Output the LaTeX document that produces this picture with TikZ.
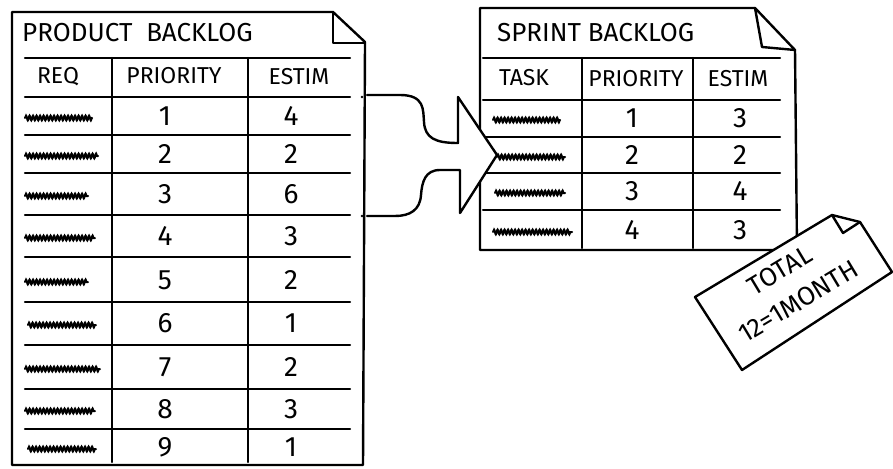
\documentclass[tikz,border=0pt]{standalone}
\usepackage{fontspec}
\setmainfont{Fira Sans}
\usetikzlibrary{decorations.pathmorphing}
\tikzset{
  pen/.style={line width=2.4pt, line cap=round, line join=round},
  rule/.style={line width=2.1pt, line cap=round},
  title/.style={font=\fontsize{26}{26}\selectfont, anchor=west, inner sep=0pt},
  head/.style={font=\fontsize{23}{23}\selectfont, inner sep=0pt},
  num/.style={font=\fontsize{28}{28}\selectfont, inner sep=0pt},
  notetext/.style={font=\fontsize{26}{36}\selectfont, inner sep=0pt, rotate=31, align=center},
  scribble/.style={line width=2pt, line cap=round, decorate,
    decoration={snake, amplitude=2.4pt, segment length=3.5pt}},
}
\begin{document}
\begin{tikzpicture}[x=1pt,y=-1pt]
\useasboundingbox (0,0) rectangle (893,468);

% ---------- Product backlog ----------
\draw[pen] (12,12) -- (333,12) -- (365,42) -- (363,465) -- (12,465) -- cycle;
\draw[pen] (333,12) -- (333,43) -- (365,43);
\node[title] (pbtitle) at (22,33) {PRODUCT\ \ BACKLOG};
\foreach \y in {58,97,135,173,215,257,302,345,389,429}
  \draw[rule] (25,\y) -- (350,\y);
\draw[rule] (112,58) -- (112,462);
\draw[rule] (248,58) -- (248,462);
\node[head] (pbreq) at (58,77) {REQ};
\node[head] (pbprio) at (174,76) {PRIORITY};
\node[head] (pbest) at (299,77) {ESTIM};
\foreach \yc/\p/\e/\sa/\sb [count=\i] in
  {116/1/4/25/92, 154/2/2/25/98, 194/3/6/25/88, 236/4/3/25/95, 280/5/2/25/88,
   323/6/1/28/96, 367/7/2/25/100, 409/8/3/25/95, 447/9/1/28/96}{
  \node[num] (pbp\i) at (165,\yc) {\p};
  \node[num] (pbe\i) at (291,\yc) {\e};
  \draw[scribble] (\sa,\yc+2) -- (\sb,\yc+2);
}

% ---------- Sprint backlog ----------
\draw[pen] (480,8) -- (755,8) -- (795,50) -- (797,250) -- (480,250) -- cycle;
\draw[pen] (755,8) -- (762,47) -- (795,50);
\node[title] (sbtitle) at (497,33) {SPRINT\ BACKLOG};
\foreach \y in {58,100,137,173,210}
  \draw[rule] (483,\y) -- (780,\y);
\draw[rule] (582,58) -- (582,248);
\draw[rule] (693,58) -- (693,248);
\node[head] (sbtask) at (524,78) {TASK};
\node[head] (sbprio) at (636,79) {PRIORITY};
\node[head] (sbest) at (738,79) {ESTIM};
\foreach \yc/\p/\e/\sa/\sb [count=\i] in
  {118/1/3/493/560, 155/2/2/497/565, 191/3/4/495/565, 230/4/3/493/572}{
  \node[num] (sbp\i) at (632,\yc) {\p};
  \node[num] (sbe\i) at (740,\yc) {\e};
  \draw[scribble] (\sa,\yc+2) -- (\sb,\yc+2);
}

% ---------- Big hollow arrow ----------
\coordinate (atop) at (367,95);
\coordinate (abot) at (367,216);
\coordinate (tip) at (497,155);
\fill[white] (atop) -- (400,95) .. controls (425,95) and (423,110) .. (424,122)
  .. controls (425,138) and (435,143) .. (458,143) -- (458,97) -- (tip)
  -- (460,213) -- (460,170) -- (440,170) .. controls (425,170) and (422,182) .. (421,195)
  .. controls (420,210) and (410,216) .. (395,216) -- (abot) -- cycle;
\draw[pen] (atop) -- (400,95) .. controls (425,95) and (423,110) .. (424,122)
  .. controls (425,138) and (435,143) .. (458,143) -- (458,97) -- (tip)
  -- (460,213) -- (460,170) -- (440,170) .. controls (425,170) and (422,182) .. (421,195)
  .. controls (420,210) and (410,216) .. (395,216) -- (abot);
\fill (362,97) circle (1.3pt);
\fill (362,216) circle (1.3pt);

% ---------- Total note ----------
\draw[pen, fill=white] (695,297) -- (832,215) -- (860,222) -- (892,272) -- (742,370) -- cycle;
\draw[pen] (832,215) -- (843,233) -- (860,222);
\node[notetext] (total) at (789,286) {TOTAL\\12=1MONTH};
\end{tikzpicture}
\end{document}
